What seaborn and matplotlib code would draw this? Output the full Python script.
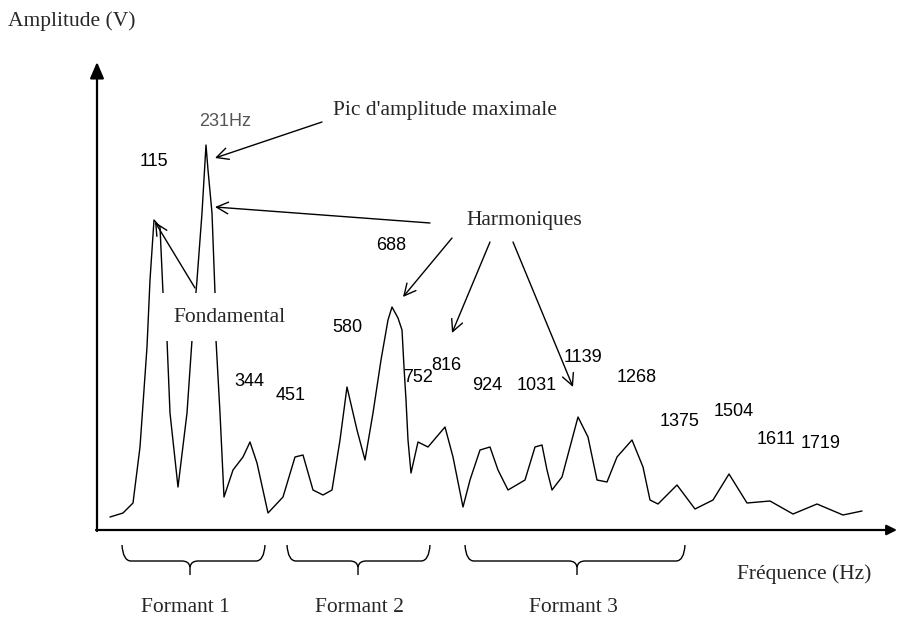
import numpy as np
import pandas as pd
import matplotlib
matplotlib.use("Agg")
import matplotlib.pyplot as plt
from matplotlib.path import Path
from matplotlib.patches import PathPatch, Rectangle
import seaborn as sns

# ---- data (schematic spectrum: horizontal position along frequency axis, amplitude) ----
position = [13, 26, 36, 43, 50, 53, 57, 63, 66, 70, 73, 81, 90, 95, 100, 105, 109, 111,
            115, 118, 119, 123, 127, 136, 146, 153, 160, 171, 186, 198, 206, 216, 226,
            235, 243, 250, 260, 268, 276, 284, 291, 295, 301, 305, 307, 309, 311, 314,
            321, 331, 348, 356, 366, 373, 383, 393, 401, 411, 428, 438, 445, 450, 455,
            465, 473, 481, 491, 500, 510, 520, 535, 546, 553, 561, 580, 598, 616, 632,
            650, 673, 696, 720, 746, 765]
amplitude = [13, 17, 27, 83, 183, 250, 310, 303, 237, 190, 117, 43, 117, 190, 250, 317,
             385, 360, 317, 237, 190, 117, 33, 60, 73, 88, 67, 17, 33, 73, 75, 40, 35,
             40, 90, 143, 100, 70, 117, 170, 210, 223, 212, 200, 163, 130, 90, 57,
             88, 83, 103, 73, 23, 50, 80, 83, 60, 40, 50, 83, 85, 60, 40,
             53, 83, 113, 93, 50, 48, 73, 90, 63, 30, 26, 45, 21, 30, 56,
             27, 29, 16, 26, 15, 19]

peak_labels = ["115", "231Hz", "344", "451", "580", "688", "752", "816", "924",
               "1031", "1139", "1268", "1375", "1504", "1611", "1719"]
formant_labels = ["Formant 1", "Formant 2", "Formant 3"]
y_label = "Amplitude (V)"
x_label = "Fréquence (Hz)"
max_peak_text = "Pic d'amplitude maximale"
harmonics_text = "Harmoniques"
fundamental_text = "Fondamental"

# ---- layout (pixel positions in the 898x617 picture) ----
W, H = 898, 617
X0, Y0 = 97, 530          # axis origin in pixels
XR, YT = 897, 62          # arrow tips

def d(px, py):
    """pixel -> data coordinates"""
    return (px - X0, Y0 - py)

peak_label_px = [(154, 162), (225, 121), (249, 381), (291, 395), (347, 328), (391, 245),
                 (418, 377), (446, 365), (487, 385), (537, 385), (583, 357), (637, 378),
                 (680, 422), (734, 412), (776, 440), (821, 443)]
formant_px = [(122, 265, 190), (287, 430, 358), (465, 685, 577)]  # left, right, tip

df = pd.DataFrame({"position": position, "amplitude": amplitude})

sns.set_style("white")
plt.rcParams["font.family"] = ["DejaVu Sans"]
SERIF = ["Liberation Serif", "DejaVu Serif"]
SANS = ["Liberation Sans", "DejaVu Sans"]

fig = plt.figure(figsize=(W / 100, H / 100), dpi=100)
ax = fig.add_axes([X0 / W, (H - Y0) / H, (XR - X0) / W, (Y0 - YT) / H])
ax.set_xlim(0, XR - X0)
ax.set_ylim(0, Y0 - YT)
ax.axis("off")

sns.lineplot(data=df, x="position", y="amplitude", ax=ax, color="black", lw=1.0,
             sort=False, estimator=None, legend=False)

# axes arrows
ax.annotate("", xy=d(X0, YT), xytext=d(X0, Y0 + 1), annotation_clip=False,
            arrowprops=dict(arrowstyle="-|>,head_length=0.7,head_width=0.3", lw=1.6,
                            color="black", shrinkA=0, shrinkB=0, mutation_scale=14))
ax.annotate("", xy=d(XR, Y0), xytext=d(X0 - 1, Y0), annotation_clip=False,
            arrowprops=dict(arrowstyle="-|>,head_length=0.5,head_width=0.25", lw=1.6,
                            color="black", shrinkA=0, shrinkB=0, mutation_scale=12))

# white box behind "Fondamental"
bx0, by0 = d(157, 341)
ax.add_patch(Rectangle((bx0, by0), 292 - 157, 341 - 293, facecolor="white",
                       edgecolor="none", zorder=3))
ax.text(*d(229, 318), fundamental_text, ha="center", va="center", fontsize=15.5,
        family=SERIF, zorder=4)

# peak labels
for lab, (px, py) in zip(peak_labels, peak_label_px):
    col = "#555555" if lab.endswith("Hz") else "black"
    ax.text(*d(px, py), lab, ha="center", va="center", fontsize=13, family=SANS,
            color=col, zorder=4, clip_on=False)

# serif annotations
ax.text(*d(8, 21), y_label, ha="left", va="center", fontsize=15.5, family=SERIF,
        clip_on=False)
ax.text(*d(333, 111), max_peak_text, ha="left", va="center", fontsize=15.5,
        family=SERIF, clip_on=False)
ax.text(*d(466, 220), harmonics_text, ha="left", va="center", fontsize=15.5,
        family=SERIF, clip_on=False)
ax.text(*d(737, 574), x_label, ha="left", va="center", fontsize=15.5, family=SERIF,
        clip_on=False)

# pointer arrows
arrows_px = [((322, 122), (215, 158)),
             ((430, 223), (215, 207)),
             ((452, 238), (403, 297)),
             ((490, 242), (452, 333)),
             ((513, 242), (573, 387)),
             ((195, 288), (155, 222))]
for start, tip in arrows_px:
    ax.annotate("", xy=d(*tip), xytext=d(*start), annotation_clip=False,
                arrowprops=dict(arrowstyle="->,head_length=0.6,head_width=0.3", lw=1.0,
                                color="black", shrinkA=0, shrinkB=0, mutation_scale=14))

# braces and formant labels
def brace(left, right, tip, top=545, mid=561, bottom=575, r=9):
    join = mid + 6
    verts = [d(left, top), d(left + 1, mid), d(left + r, mid),
             d(tip - 8, mid),
             d(tip - 1, mid), d(tip, join),
             d(tip, bottom),
             d(tip, join), d(tip + 1, mid), d(tip + 8, mid),
             d(right - r, mid),
             d(right - 1, mid), d(right, top)]
    codes = [Path.MOVETO, Path.CURVE3, Path.CURVE3, Path.LINETO,
             Path.CURVE3, Path.CURVE3,
             Path.LINETO,
             Path.MOVETO, Path.CURVE3, Path.CURVE3,
             Path.LINETO, Path.CURVE3, Path.CURVE3]
    p = PathPatch(Path(verts, codes), facecolor="none", edgecolor="black", lw=1.0,
                  clip_on=False, transform=ax.transData)
    ax.add_patch(p)

label_centers = [185, 359, 573]
for lab, (l, r, t), cx in zip(formant_labels, formant_px, label_centers):
    brace(l, r, t)
    ax.text(*d(cx, 608), lab, ha="center", va="center", fontsize=15.5, family=SERIF,
            clip_on=False)

fig.savefig("out.png", dpi=100, facecolor="white")
